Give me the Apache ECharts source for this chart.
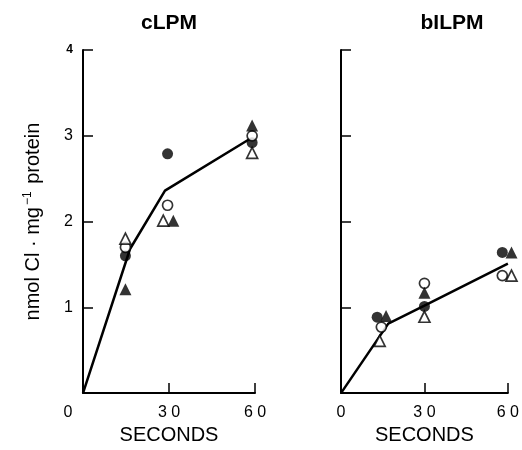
<!DOCTYPE html>
<html>
<head>
<meta charset="utf-8">
<script src="https://cdn.jsdelivr.net/npm/echarts@6/dist/echarts.min.js"></script>
<style>html,body{margin:0;padding:0;background:#fff}#c{width:522px;height:450px}</style>
</head>
<body>
<div id="c"></div>
<script>
// Panel titles
const panelTitles = ['cLPM', 'bILPM'];
// x ticks (seconds) and y ticks
const xTicks = [0, 30, 60];
const yTicks = [0, 1, 2, 3, 4];

// cLPM (left panel) — [seconds, nmol Cl/mg protein]
const cFilledCircle = [[14.8, 1.60], [29.5, 2.79], [59, 2.92]];
const cOpenCircle   = [[14.8, 1.70], [29.5, 2.19], [59, 3.00]];
const cFilledTri    = [[14.8, 1.21], [31.5, 2.01], [59, 3.12]];
const cOpenTri      = [[14.8, 1.80], [28.0, 2.01], [59, 2.80]];
const cLine         = [[0, 0], [16.4, 1.68], [28.6, 2.36], [58, 2.96]];

// bILPM (right panel)
const bFilledCircle = [[13.0, 0.885], [30, 1.01], [58.0, 1.64]];
const bOpenCircle   = [[14.5, 0.77], [30, 1.28], [58.0, 1.37]];
const bFilledTri    = [[16.2, 0.90], [30, 1.17], [61.3, 1.64]];
const bOpenTri      = [[13.9, 0.61], [30, 0.89], [61.3, 1.37]];
const bLine         = [[0, 0], [17.0, 0.81], [30, 1.02], [60, 1.51]];

const FONT = 'Liberation Sans';
const chart = echarts.init(document.getElementById('c'), null, {renderer: 'canvas'});

function xAxis(gi, shiftZero) {
  return {
    type: 'value', gridIndex: gi, min: 0, max: 60, interval: 30,
    name: 'SECONDS', nameLocation: 'middle', nameGap: 31,
    nameTextStyle: {fontFamily: FONT, fontSize: 20, color: '#000'},
    axisLine: {lineStyle: {color: '#000', width: 2}},
    axisTick: {inside: true, length: 10, lineStyle: {color: '#000', width: 1.5}},
    axisLabel: {
      fontFamily: FONT, fontSize: 16, color: '#000', margin: 11,
      formatter: v => (v === 0 && shiftZero) ? '{z|0}' : String(v).split('').join(' '),
      rich: {z: {fontFamily: FONT, fontSize: 16, color: '#000', padding: [0, 30, 0, 0]}}
    },
    splitLine: {show: false}
  };
}
function yAxis(gi, showLabels) {
  const ax = {
    type: 'value', gridIndex: gi, min: 0, max: 4, interval: 1,
    axisLine: {show: true, lineStyle: {color: '#000', width: 2}},
    axisTick: {show: true, inside: true, length: 10, lineStyle: {color: '#000', width: 1.5}},
    axisLabel: {
      show: showLabels, fontFamily: FONT, fontSize: 16, color: '#000', margin: 10,
      formatter: v => v === 0 ? '' : (v === 4 ? '{s|4}' : String(v)),
      rich: {s: {fontFamily: FONT, fontSize: 12, fontWeight: 'bold', color: '#000'}}
    },
    splitLine: {show: false}
  };
  if (showLabels) {
    ax.name = '{a|nmol Cl · mg}{b|−1}{a| protein}';
    ax.nameLocation = 'middle';
    ax.nameGap = 39;
    ax.nameTextStyle = {
      color: '#000',
      rich: {
        a: {fontFamily: FONT, fontSize: 20, color: '#000'},
        b: {fontFamily: FONT, fontSize: 12, color: '#000', verticalAlign: 'bottom', padding: [0, 2, 10, 2]}
      }
    };
  }
  return ax;
}

function pts(name, data, gi, symbol, filled, size) {
  return {
    type: 'scatter', name, data, xAxisIndex: gi, yAxisIndex: gi, clip: false,
    symbol, symbolSize: size, z: 3,
    itemStyle: {color: filled ? '#000' : '#fff', borderColor: '#000', borderWidth: filled ? 0 : 1.7}
  };
}
function line(data, gi) {
  return {
    type: 'line', data, xAxisIndex: gi, yAxisIndex: gi, showSymbol: false, symbol: 'none',
    lineStyle: {color: '#000', width: 2.5}, z: 2, clip: false
  };
}

chart.setOption({
  backgroundColor: '#fff',
  animation: false,
  title: [
    {text: panelTitles[0], left: 164, top: 8, textAlign: 'center',
     textStyle: {fontFamily: FONT, fontSize: 21, fontWeight: 'bold', color: '#000'}},
    {text: panelTitles[1], left: 447, top: 8, textAlign: 'center',
     textStyle: {fontFamily: FONT, fontSize: 21, fontWeight: 'bold', color: '#000'}}
  ],
  grid: [
    {left: 83, top: 50, width: 172, height: 348},
    {left: 341, top: 50, width: 170, height: 348}
  ],
  xAxis: [xAxis(0, true), xAxis(1, false)],
  yAxis: [yAxis(0, true), yAxis(1, false)],
  series: [
    line(cLine, 0),
    pts('cFilledCircle', cFilledCircle, 0, 'circle', true, 11),
    pts('cOpenCircle', cOpenCircle, 0, 'circle', false, 10),
    pts('cFilledTri', cFilledTri, 0, 'triangle', true, 12),
    pts('cOpenTri', cOpenTri, 0, 'triangle', false, 11),
    line(bLine, 1),
    pts('bFilledCircle', bFilledCircle, 1, 'circle', true, 11),
    pts('bOpenCircle', bOpenCircle, 1, 'circle', false, 10),
    pts('bFilledTri', bFilledTri, 1, 'triangle', true, 12),
    pts('bOpenTri', bOpenTri, 1, 'triangle', false, 11)
  ]
});
</script>
</body>
</html>
